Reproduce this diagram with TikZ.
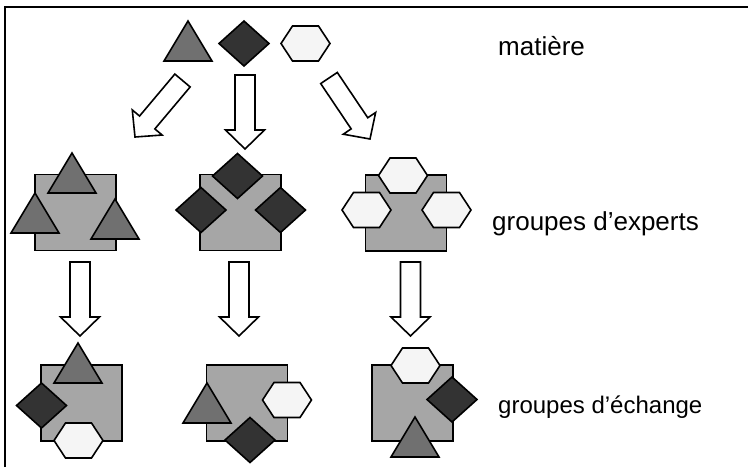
\documentclass[tikz,border=0pt]{standalone}
\usepackage{fontspec}
\setmainfont{Liberation Sans}
\usetikzlibrary{calc}
\definecolor{trig}{HTML}{707070}
\definecolor{diac}{HTML}{333333}
\definecolor{hexc}{HTML}{F5F5F5}
\definecolor{sqc}{HTML}{A6A6A6}
\tikzset{
  shp/.style={draw=black, line width=1.6pt, line join=miter},
  sq/.style={shp, fill=sqc, minimum width=81pt, minimum height=76pt, inner sep=0pt},
  arrowbox/.style={draw=black, line width=1.6pt, fill=white, line join=miter},
  lbl/.style={inner sep=0pt, anchor=base west, text=black},
  tri/.pic={\draw[shp,fill=trig] (0,0) -- (24,40) -- (-24,40) -- cycle;},
  dia/.pic={\draw[shp,fill=diac] (-25,0) -- (0,-22.5) -- (25,0) -- (0,22.5) -- cycle;},
  hex/.pic={\draw[shp,fill=hexc] (-24.5,0) -- (-13,-17.5) -- (13,-17.5) -- (24.5,0) -- (13,17.5) -- (-13,17.5) -- cycle;},
}
\newcommand\myarrow[2]{%
  \coordinate (#1h) at ($(#1)!0.743!(#2)$);
  \draw[arrowbox] ($(#1)!10pt!90:(#2)$) -- ($(#1h)!10pt!90:(#2)$) -- ($(#1h)!19.5pt!90:(#2)$)
    -- (#2) -- ($(#1h)!19.5pt!-90:(#2)$) -- ($(#1h)!10pt!-90:(#2)$) -- ($(#1)!10pt!-90:(#2)$) -- cycle;}
\begin{document}
\begin{tikzpicture}[x=1pt,y=-1pt]
\useasboundingbox (0,0) rectangle (748,467);
\fill[white] (0,0) rectangle (748,467);
% frame
\draw[line width=2pt] (5,467) -- (5,6.7) -- (748,6.7);
% top row
\pic (t0) at (188,21) {tri};
\pic (d0) at (244,43.5) {dia};
\pic (h0) at (305.5,43.5) {hex};
% arrows from top
\coordinate (aLs) at (182.5,80.5); \coordinate (aLt) at (135,137);
\coordinate (aMs) at (245,75);    \coordinate (aMt) at (245,149);
\coordinate (aRs) at (329,78);    \coordinate (aRt) at (370,139);
\myarrow{aLs}{aLt}
\myarrow{aMs}{aMt}
\myarrow{aRs}{aRt}
% experts row
\node[sq] (s1) at (75.5,212.5) {};
\node[sq] (s2) at (240.5,212.5) {};
\node[sq] (s3) at (406,213) {};
\pic at (72,153) {tri};
\pic at (35,193) {tri};
\pic at (115,199) {tri};
\pic at (237.5,176) {dia};
\pic at (201,210) {dia};
\pic at (280.5,210) {dia};
\pic at (403,175.5) {hex};
\pic at (366.5,210) {hex};
\pic at (446.5,210) {hex};
% arrows down
\coordinate (b1s) at (80,262); \coordinate (b1t) at (80,336);
\coordinate (b2s) at (239,262); \coordinate (b2t) at (239,336);
\coordinate (b3s) at (410.5,262); \coordinate (b3t) at (410.5,336);
\myarrow{b1s}{b1t}
\myarrow{b2s}{b2t}
\myarrow{b3s}{b3t}
% exchange row
\node[sq] (s4) at (81.5,403) {};
\node[sq] (s5) at (247,403) {};
\node[sq] (s6) at (412.5,403) {};
\pic at (78,343) {tri};
\pic at (41.5,405.5) {dia};
\pic at (78.5,440.5) {hex};
\pic at (207,383) {tri};
\pic at (287,400) {hex};
\pic at (250,440) {dia};
\pic at (415.5,365.5) {hex};
\pic at (452,399.5) {dia};
\pic at (415,417) {tri};
% labels
\node[lbl, font=\fontsize{26pt}{30pt}\selectfont] (mat) at (498,55) {matière};
\node[lbl, font=\fontsize{26pt}{30pt}\selectfont] (exp) at (492,230) {groupes d’experts};
\node[lbl, font=\fontsize{24pt}{28pt}\selectfont] (ech) at (498,413) {groupes d’échange};
\end{tikzpicture}
\end{document}
